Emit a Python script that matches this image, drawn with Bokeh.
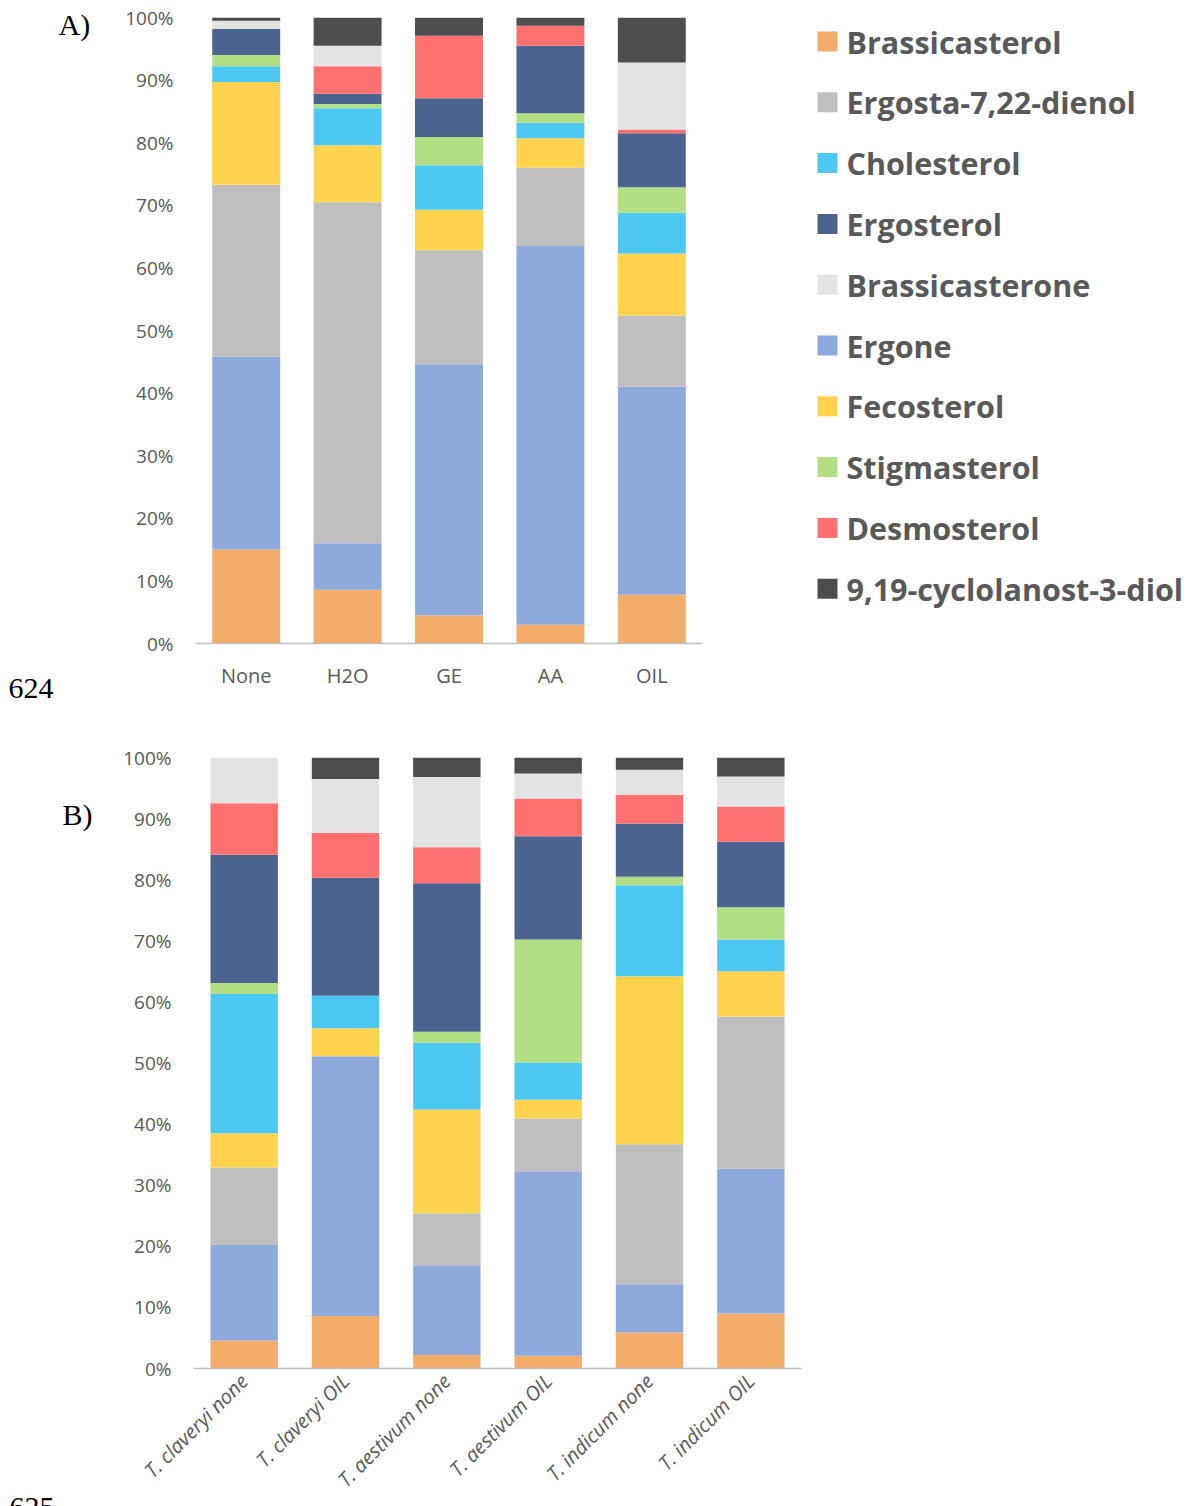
import math

from bokeh.core.properties import value
from bokeh.embed import file_html
from bokeh.layouts import column, row
from bokeh.models import (ColumnDataSource, FactorRange, Label,
                          PrintfTickFormatter, Range1d)
from bokeh.plotting import figure
from bokeh.resources import INLINE

# Sterol classes, in stacking order (bottom to top)
sterols = ["Brassicasterol", "Ergone", "Ergosta-7,22-dienol", "Fecosterol",
           "Cholesterol", "Stigmasterol", "Ergosterol", "Desmosterol",
           "Brassicasterone", "9,19-cyclolanost-3-diol"]
sterol_colors = ["#F4AC6A", "#8EA9DB", "#BFBFBF", "#FFD34E", "#4CC8F3",
                 "#B3DF84", "#4B638F", "#FF7070", "#E3E3E3", "#4D4D4D"]
legend_order = ["Brassicasterol", "Ergosta-7,22-dienol", "Cholesterol",
                "Ergosterol", "Brassicasterone", "Ergone", "Fecosterol",
                "Stigmasterol", "Desmosterol", "9,19-cyclolanost-3-diol"]

# Panel A: relative sterol composition (%) per treatment
treatments_a = ["None", "H2O", "GE", "AA", "OIL"]
brassicasterol_a = [15.0, 8.6, 4.5, 3.0, 7.8]
ergone_a = [30.8, 7.4, 40.1, 60.5, 33.2]
ergosta_a = [27.5, 54.5, 18.2, 12.5, 11.4]
fecosterol_a = [16.4, 9.1, 6.5, 4.7, 9.9]
cholesterol_a = [2.5, 5.9, 7.1, 2.5, 6.5]
stigmasterol_a = [1.8, 0.7, 4.5, 1.5, 4.1]
ergosterol_a = [4.2, 1.6, 6.2, 10.8, 8.6]
desmosterol_a = [0.0, 4.4, 10.0, 3.2, 0.6]
brassicasterone_a = [1.3, 3.3, 0.0, 0.0, 10.7]
cyclolanost_a = [0.5, 4.5, 2.9, 1.3, 7.2]

# Panel B: relative sterol composition (%) per truffle species / treatment
samples_b = ["T. claveryi none", "T. claveryi OIL", "T. aestivum none",
             "T. aestivum OIL", "T. indicum none", "T. indicum OIL"]
brassicasterol_b = [4.6, 8.6, 2.2, 2.1, 5.9, 9.0]
ergone_b = [15.6, 42.5, 14.7, 30.2, 7.9, 23.7]
ergosta_b = [12.7, 0.0, 8.5, 8.6, 22.9, 24.9]
fecosterol_b = [5.6, 4.6, 17.0, 3.1, 27.5, 7.4]
cholesterol_b = [22.8, 5.3, 10.9, 6.1, 14.9, 5.2]
stigmasterol_b = [1.8, 0.0, 1.8, 20.1, 1.4, 5.3]
ergosterol_b = [21.0, 19.3, 24.3, 16.9, 8.7, 10.7]
desmosterol_b = [8.4, 7.4, 5.9, 6.2, 4.7, 5.8]
brassicasterone_b = [7.5, 8.8, 11.5, 4.1, 4.1, 4.9]
cyclolanost_b = [0.0, 3.5, 3.2, 2.6, 2.0, 3.1]

percent_ticks = [0, 10, 20, 30, 40, 50, 60, 70, 80, 90, 100]

AXIS_FONT = "Open Sans"
TEXT_GRAY = "#595959"
PAGE_W = 1203
STRIP_W = 110           # left strip holding the panel letters / line numbers
KEY_LEFT = 702          # x where the legend column starts
HEIGHT_A = 705
HEIGHT_B = 801
LABEL_SHIFT = 12        # baseline correction for the serif captions
KEY_TOP = 41            # centre of the first legend row (px from top)
KEY_STEP = 60.8         # legend row pitch (px)


def plain_figure(width, height, x_range, y_range):
    """Axis-less figure whose frame fills the whole canvas."""
    f = figure(width=width, height=height, x_range=x_range, y_range=y_range,
               output_backend="svg", toolbar_location=None, frame_align=False,
               x_axis_location=None, y_axis_location=None,
               min_border=0, min_border_left=0, min_border_right=0,
               min_border_top=0, min_border_bottom=0)
    f.grid.visible = False
    f.outline_line_color = None
    return f


def stacked_panel(cats, columns, width, height, borders, bar_width):
    left, right, top, bottom = borders
    p = figure(x_range=FactorRange(*cats), y_range=Range1d(0, 100),
               width=width, height=height, output_backend="svg",
               toolbar_location=None, frame_align=False,
               min_border_left=left, min_border_right=right,
               min_border_top=top, min_border_bottom=bottom)
    data = {"cat": cats}
    data.update(dict(zip(sterols, columns)))
    src = ColumnDataSource(data)
    p.vbar_stack(sterols, x="cat", width=bar_width, source=src,
                 fill_color=sterol_colors, line_color=None)

    p.outline_line_color = None
    p.xgrid.grid_line_color = None
    p.ygrid.grid_line_color = None

    p.yaxis.ticker = percent_ticks
    p.yaxis.formatter = PrintfTickFormatter(format="%d%%")
    p.yaxis.axis_line_color = None
    p.yaxis.major_tick_line_color = None
    p.yaxis.minor_tick_line_color = None
    p.yaxis.major_tick_out = 0
    p.yaxis.major_label_standoff = 22
    p.yaxis.major_label_text_font = AXIS_FONT
    p.yaxis.major_label_text_font_size = "19px"
    p.yaxis.major_label_text_color = TEXT_GRAY

    p.xaxis.axis_line_color = "#BFBFBF"
    p.xaxis.axis_line_width = 1.5
    p.xaxis.major_tick_line_color = None
    p.xaxis.major_tick_out = 0
    p.xaxis.major_label_text_font = AXIS_FONT
    p.xaxis.major_label_text_font_size = "20px"
    p.xaxis.major_label_text_color = TEXT_GRAY
    return p


def caption_strip(height, texts):
    s = plain_figure(STRIP_W, height, Range1d(0, STRIP_W), Range1d(0, height))
    for text, x, y in texts:
        s.add_layout(Label(x=x, y=y + LABEL_SHIFT, x_units="screen",
                           y_units="screen", text=text,
                           text_font="Liberation Serif", text_font_size="30px",
                           text_color="black", text_baseline="alphabetic"))
    return s


# ---- Panel A ----
cols_a = [brassicasterol_a, ergone_a, ergosta_a, fecosterol_a, cholesterol_a,
          stigmasterol_a, ergosterol_a, desmosterol_a, brassicasterone_a,
          cyclolanost_a]
pa = stacked_panel(treatments_a, cols_a, KEY_LEFT - STRIP_W, HEIGHT_A,
                   (195 - STRIP_W, 0, 17, 62), 0.67)
pa.xaxis.major_label_standoff = 18

# Legend column to the right of panel A (pixel-like coordinates, y downwards)
key = plain_figure(PAGE_W - KEY_LEFT, HEIGHT_A,
                   Range1d(KEY_LEFT, PAGE_W), Range1d(HEIGHT_A, 0))
row_centres = [KEY_TOP + i * KEY_STEP for i in range(len(legend_order))]
key_colors = [sterol_colors[sterols.index(n)] for n in legend_order]
key_src = ColumnDataSource(dict(y=row_centres, name=legend_order,
                                color=key_colors))
key.scatter(x=827, y="y", marker="square", size=20, fill_color="color",
            line_color=None, source=key_src)
key.text(x=846, y="y", text="name", source=key_src,
         text_baseline="middle", text_align="left",
         text_font=value(AXIS_FONT), text_font_size=value("30.5px"),
         text_font_style="bold", text_color=TEXT_GRAY)

strip_a = caption_strip(HEIGHT_A, [("A)", 58, HEIGHT_A - 36),
                                   ("624", 8, HEIGHT_A - 700)])

# ---- Panel B ----
cols_b = [brassicasterol_b, ergone_b, ergosta_b, fecosterol_b, cholesterol_b,
          stigmasterol_b, ergosterol_b, desmosterol_b, brassicasterone_b,
          cyclolanost_b]
pb = stacked_panel(samples_b, cols_b, PAGE_W - STRIP_W, HEIGHT_B,
                   (193 - STRIP_W, 402, 757 - HEIGHT_A, 138), 0.665)
pb.xaxis.major_label_orientation = math.pi / 4
pb.xaxis.major_label_text_font_style = "italic"
pb.xaxis.major_label_text_font_size = "20px"
pb.xaxis.major_label_standoff = 9

strip_b = caption_strip(HEIGHT_B, [("B)", 62, HEIGHT_B - (826 - HEIGHT_A)),
                                   ("625", 9, HEIGHT_B - (1519 - HEIGHT_A))])

page = column(row(strip_a, pa, key, spacing=0),
              row(strip_b, pb, spacing=0), spacing=0)
open("out.html", "w").write(file_html(page, INLINE))
